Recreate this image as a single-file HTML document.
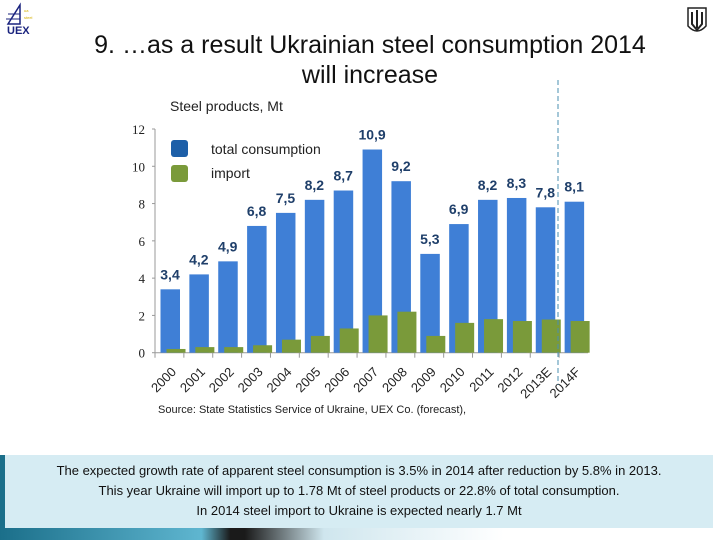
<!DOCTYPE html>
<html><head><meta charset="utf-8"><style>
body{margin:0;width:720px;height:540px;overflow:hidden;background:#fff;font-family:"Liberation Sans",sans-serif;position:relative}
.abs{position:absolute}
</style></head><body>
<div class="abs" style="left:4px;top:2px;width:40px;height:34px">
<svg width="40" height="34"><path d="M4 22 L16 3 L16 22 Z" fill="none" stroke="#1a237e" stroke-width="1.5"/><line x1="4" y1="12" x2="16" y2="12" stroke="#1a237e"/><line x1="2" y1="17" x2="16" y2="17" stroke="#1a237e"/><text x="20" y="10" font-size="4" fill="#d4b000">ua</text><text x="20" y="17" font-size="4" fill="#d4b000">steel</text><text x="3" y="32" font-size="11" font-weight="bold" fill="#1a237e" font-family="Liberation Sans">UEX</text></svg></div>
<div class="abs" style="left:40px;top:30px;width:660px;text-align:center;font-size:25px;line-height:30px;color:#111">9. …as a result Ukrainian steel consumption 2014<br>will increase</div>
<div class="abs" style="left:686px;top:6px"><svg width="22" height="30"><path d="M2 2 L20 2 L20 20 Q11 30 2 20 Z" fill="#fff" stroke="#222" stroke-width="1.5"/><path d="M6 6 L6 18 L11 24 L16 18 L16 6 M11 4 L11 22" fill="none" stroke="#222" stroke-width="2"/></svg></div>
<div class="abs" style="left:170px;top:98px;font-size:14px;color:#222">Steel products, Mt</div>
<svg class="abs" style="left:0;top:0" width="720" height="450" id="chart"></svg>
<div class="abs" style="left:158px;top:404px;font-size:11px;color:#222">Source: State Statistics Service of Ukraine, UEX Co. (forecast),</div>
<div class="abs" style="left:0;top:520px;width:720px;height:20px;background:linear-gradient(90deg,#1b6f8a 0%,#5fb6d0 28%,#1a1a1a 32%,#1a1a1a 34%,#cfe6ee 45%,#fff 70%)"></div>
<div class="abs" style="left:0;top:455px;width:6px;height:70px;background:#1b6f8a"></div>
<div class="abs" style="left:5px;top:455px;width:708px;height:73px;background:#d6ecf3;text-align:center;font-size:13px;line-height:20px;color:#111;padding-top:6px;box-sizing:border-box">The expected growth rate of apparent steel consumption is 3.5% in 2014 after reduction by 5.8% in 2013.<br>This year Ukraine will import up to 1.78 Mt of steel products or 22.8% of total consumption.<br>In 2014 steel import to Ukraine is expected nearly 1.7 Mt</div>
<script>
const categories=["2000","2001","2002","2003","2004","2005","2006","2007","2008","2009","2010","2011","2012","2013E","2014F"];
const totalValues=[3.4,4.2,4.9,6.8,7.5,8.2,8.7,10.9,9.2,5.3,6.9,8.2,8.3,7.8,8.1];
const importValues=[0.2,0.3,0.3,0.4,0.7,0.9,1.3,2.0,2.2,0.9,1.6,1.8,1.7,1.78,1.7];
const totalLabels=["3,4","4,2","4,9","6,8","7,5","8,2","8,7","10,9","9,2","5,3","6,9","8,2","8,3","7,8","8,1"];
const yTicks=[0,2,4,6,8,10,12];
const svg=document.getElementById('chart');const NS='http://www.w3.org/2000/svg';
const x0=155,x1=588,y0=352.7,yTop=129,ymax=12;
const slot=(x1-x0)/categories.length;
const xs=i=>x0+i*slot;const ys=v=>y0-(y0-yTop)*v/ymax;
function mk(t,a){const e=document.createElementNS(NS,t);for(const k in a)e.setAttribute(k,a[k]);svg.appendChild(e);return e;}
let e=mk('line',{x1:x0,y1:y0,x2:x1,y2:y0,stroke:'#999'});

e=mk('line',{x1:x0,y1:yTop,x2:x0,y2:y0,stroke:'#999'});

yTicks.forEach(v=>{const t=mk('text',{x:x0-10,y:ys(v)+5,'text-anchor':'end','font-size':13,fill:'#222','font-family':'Liberation Serif'});t.textContent=v;

const l=mk('line',{x1:x0-3,y1:ys(v),x2:x0,y2:ys(v),stroke:'#999'});});
categories.forEach((c,i)=>{const bx=xs(i);
let r=mk('rect',{x:bx+5.5,y:ys(totalValues[i]),width:19.5,height:y0-ys(totalValues[i]),fill:'#3f7fd6'});

r=mk('rect',{x:bx+11.5,y:ys(importValues[i]),width:19,height:y0-ys(importValues[i]),fill:'#7a9a3a'});

let t=mk('text',{x:bx+15,y:ys(totalValues[i])-10,'text-anchor':'middle','font-size':14,'font-weight':'bold',fill:'#1f3f6a'});t.textContent=totalLabels[i];

const lx=bx+22,ly=y0+20;
t=mk('text',{x:lx,y:ly,'text-anchor':'end','font-size':13,fill:'#222',transform:`rotate(-45 ${lx} ${ly})`});t.textContent=c;

const l=mk('line',{x1:bx,y1:y0,x2:bx,y2:y0+5,stroke:'#999'});});
e=mk('line',{x1:558,y1:80,x2:558,y2:385,stroke:'#4a8fb0','stroke-dasharray':'5,3'});

e=mk('rect',{x:171,y:140,width:17,height:17,rx:3,fill:'#1d5fa8'});
e=mk('rect',{x:171,y:165,width:17,height:17,rx:3,fill:'#7a9a3a'});
e=mk('text',{x:211,y:154,'font-size':14,fill:'#222'});e.textContent='total consumption';
e=mk('text',{x:211,y:178,'font-size':14,fill:'#222'});e.textContent='import';
</script>
</body></html>
